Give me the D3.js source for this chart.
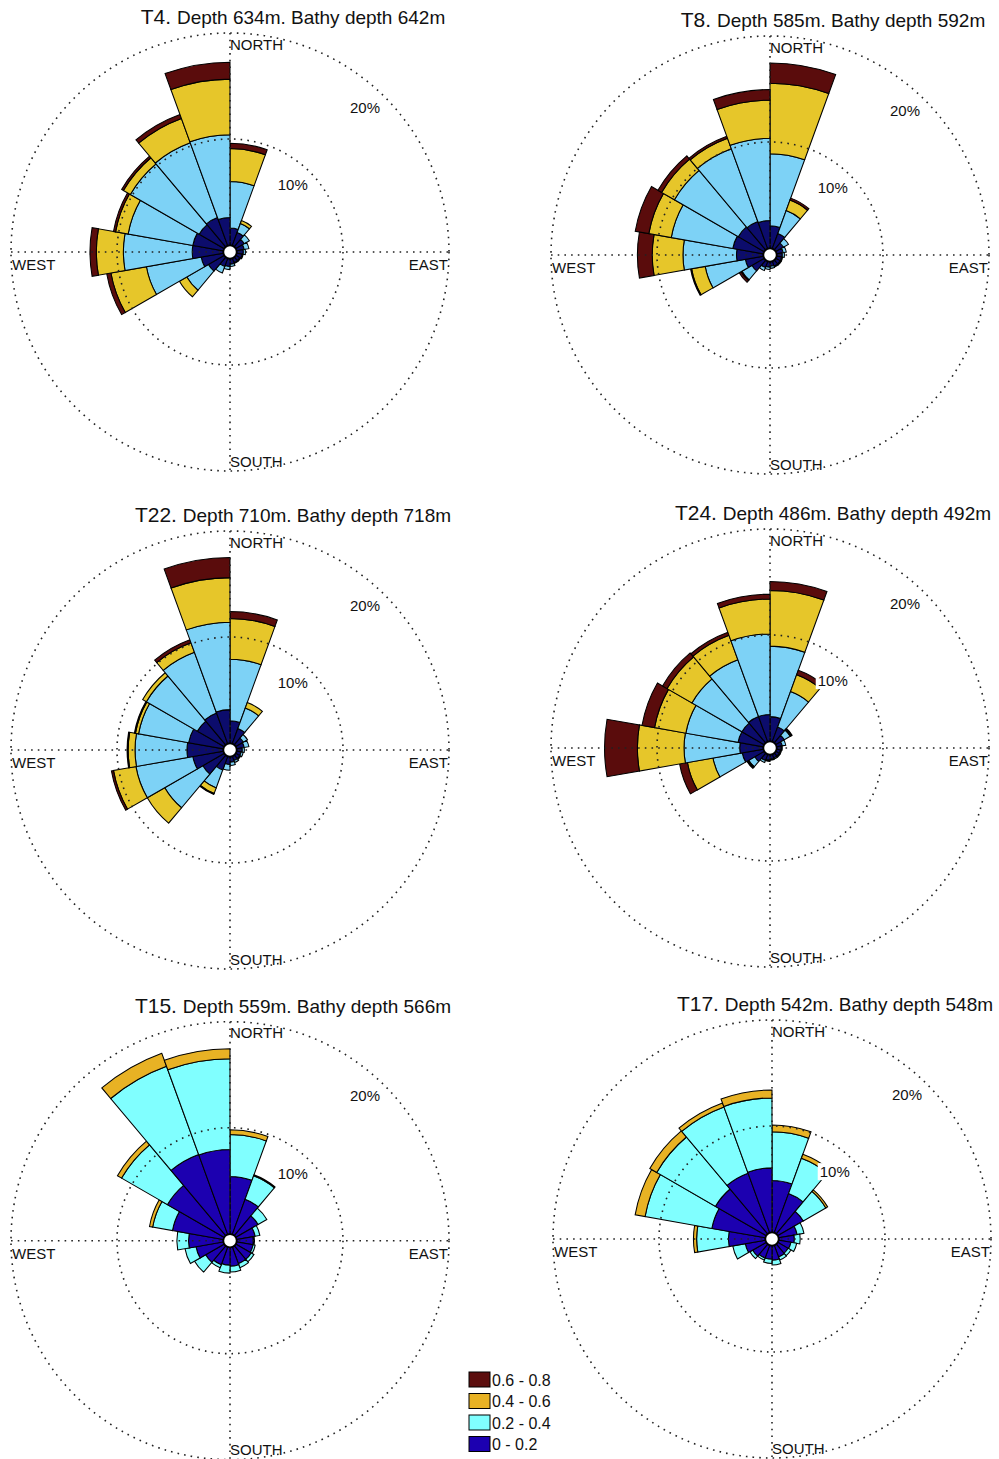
<!DOCTYPE html>
<html>
<head>
<meta charset="utf-8">
<script src="https://cdn.jsdelivr.net/npm/d3@7"></script>
<style>
  html, body { margin: 0; padding: 0; background: #fff; }
  svg { display: block; font-family: "Liberation Sans", Arial, Helvetica, sans-serif; }
</style>
</head>
<body>
<svg id="chart" width="999" height="1459"></svg>
<script>
// ---- Direction sectors (compass degrees, clockwise from north, 20° wide) ----
const sectorStart = [0, 20, 40, 60, 80, 100, 120, 140, 160, 180, 200, 220, 240, 260, 280, 300, 320, 340];
const sectorWidth = 20;

// ---- Speed classes (m/s) ----
const speedClasses = ["0 - 0.2", "0.2 - 0.4", "0.4 - 0.6", "0.6 - 0.8"];

// ---- Radial ticks (% of records) ----
const pctTicks = [10, 20];
const pctTickLabels = ["10%", "20%"];
const compassLabels = ["NORTH", "SOUTH", "WEST", "EAST"];

// ---- Moorings ----
const stations = ["T4", "T8", "T22", "T24", "T15", "T17"];
const instrDepth = [634, 585, 710, 486, 559, 542];
const bathyDepth = [642, 592, 718, 492, 566, 548];

// ---- Frequency (%) per sector, one array per speed class ----
const T4_s02 = [1.6, 1.3, 0.9, 0.7, 0.6, 0.5, 0.4, 0.4, 0.5, 0.7, 0.8, 1.7, 2.1, 2.9, 2.9, 2.7, 2.8, 2.6];
const T4_s04 = [4.4, 0.9, 0.55, 0.45, 0.2, 0.1, 0.1, 0.1, 0.2, 0.3, 0.65, 2.35, 5.25, 6.5, 6.2, 7.5, 7.5, 7.8];
const T4_s06 = [3.1, 0.3, 0, 0, 0, 0, 0, 0, 0, 0, 0, 0.8, 3.4, 2.55, 1.2, 0.75, 2.45, 5.25];
const T4_s08 = [0.5, 0, 0, 0, 0, 0, 0, 0, 0, 0, 0, 0, 0.4, 0.6, 0.2, 0.2, 0.4, 1.6];

const T8_s02 = [2.1, 1.5, 0.8, 0.6, 0.5, 0.45, 0.45, 0.45, 0.4, 0.5, 0.6, 1.3, 1.7, 2.5, 2.9, 2.8, 2.7, 2.6];
const T8_s04 = [6.8, 2.3, 0.55, 0.3, 0.2, 0.1, 0.1, 0.1, 0.2, 0.2, 0.3, 1.1, 3.85, 5.05, 5.9, 6.95, 7.3, 7.75];
const T8_s06 = [6.65, 1.05, 0, 0, 0, 0, 0, 0, 0, 0, 0, 0.1, 1.3, 2.9, 2.15, 1.4, 1.05, 3.6];
const T8_s08 = [1.9, 0.2, 0, 0, 0, 0, 0, 0, 0, 0, 0, 0.2, 0.1, 1.4, 1.3, 0.4, 0.2, 1.0];

const T22_s02 = [2.1, 1.5, 0.8, 0.7, 0.5, 0.4, 0.4, 0.4, 0.5, 0.7, 1.35, 2.3, 2.9, 3.4, 3.3, 2.9, 3.05, 3.15];
const T22_s04 = [5.8, 2.05, 0.45, 0.45, 0.2, 0.2, 0.1, 0.2, 0.3, 0.55, 1.8, 4.15, 5.45, 4.9, 4.8, 5.55, 6.1, 8.25];
const T22_s06 = [3.85, 0.55, 0, 0, 0, 0, 0, 0, 0, 0, 0.55, 1.9, 2.15, 0.65, 0.3, 0.4, 0.95, 4.2];
const T22_s08 = [0.65, 0, 0, 0, 0, 0, 0, 0, 0, 0, 0.1, 0, 0.2, 0.1, 0.1, 0, 0.3, 1.9];

const T24_s02 = [2.3, 1.45, 0.9, 0.5, 0.4, 0.35, 0.35, 0.35, 0.4, 0.5, 0.6, 1.0, 2.0, 2.2, 2.4, 2.4, 2.5, 2.5];
const T24_s04 = [6.65, 3.55, 0.65, 0.35, 0.1, 0.1, 0.1, 0.1, 0.1, 0.1, 0.2, 0.65, 2.8, 5.25, 5.0, 5.45, 5.7, 7.6];
const T24_s06 = [5.25, 1.7, 0.1, 0, 0, 0, 0, 0, 0, 0, 0, 0.1, 2.45, 4.4, 3.0, 2.7, 2.45, 3.3];
const T24_s08 = [0.85, 0.45, 0.1, 0, 0, 0, 0, 0, 0, 0, 0, 0.1, 0.75, 3.1, 1.2, 0.5, 0.3, 0.45];

const T15_s02 = [5.4, 3.5, 2.4, 1.75, 1.55, 1.55, 1.65, 1.65, 1.75, 1.65, 1.75, 2.0, 2.6, 3.25, 4.85, 6.15, 8.0, 7.95];
const T15_s04 = [3.95, 2.35, 0.95, 0.45, 0.1, 0.2, 0.3, 0.4, 0.55, 0.75, 0.3, 1.2, 1.05, 1.1, 1.9, 5.0, 8.85, 8.55];
const T15_s06 = [0.45, 0.1, 0, 0, 0, 0, 0, 0, 0, 0, 0, 0, 0, 0, 0.3, 0.45, 1.3, 0.95];
const T15_s08 = [0, 0, 0, 0, 0, 0, 0, 0, 0, 0, 0, 0, 0, 0, 0, 0, 0, 0];

const T17_s02 = [4.85, 3.9, 2.75, 1.75, 1.45, 1.15, 1.1, 1.15, 1.35, 1.25, 1.25, 1.45, 1.9, 3.45, 5.1, 5.5, 5.95, 6.05];
const T17_s04 = [4.6, 3.55, 2.45, 0.65, 0.55, 0.55, 0.3, 0.3, 0.45, 0.4, 0.2, 0.3, 1.2, 3.0, 6.4, 6.4, 6.65, 6.6];
const T17_s06 = [0.65, 0.4, 0.2, 0, 0, 0, 0, 0, 0, 0, 0, 0, 0, 0.3, 0.95, 0.75, 0.4, 0.75];
const T17_s08 = [0, 0, 0, 0, 0, 0, 0, 0, 0, 0, 0, 0, 0, 0, 0, 0, 0, 0];

const roseBands = [
  [T4_s02, T4_s04, T4_s06, T4_s08],
  [T8_s02, T8_s04, T8_s06, T8_s08],
  [T22_s02, T22_s04, T22_s06, T22_s08],
  [T24_s02, T24_s04, T24_s06, T24_s08],
  [T15_s02, T15_s04, T15_s06, T15_s08],
  [T17_s02, T17_s04, T17_s06, T17_s08]
];

// ---- Layout & styling ----
const centers = [[230, 252], [770, 255], [230, 750], [770, 748], [230, 1240.7], [772, 1239]];
const paletteDeep   = ["#0c0c6c", "#7dd2f6", "#e6c62a", "#5a0c0c"];
const paletteBright = ["#1c00b0", "#80ffff", "#e8b224", "#5c0e0e"];
const rosePalette = [paletteDeep, paletteDeep, paletteDeep, paletteDeep, paletteBright, paletteBright];

const svg = d3.select("#chart");
const rScale = d3.scaleLinear().domain([0, 20]).range([7, 219]);
const rad = d => d * Math.PI / 180;
const arcGen = d3.arc();
const R = rScale(pctTicks[pctTicks.length - 1]);

svg.append("rect").attr("width", 999).attr("height", 1459).attr("fill", "#fff");

stations.forEach((name, si) => {
  const [cx, cy] = centers[si];
  const g = svg.append("g").attr("transform", `translate(${cx},${cy})`);
  const pal = rosePalette[si];
  const bands = roseBands[si];

  // stacked wedges for each direction sector
  const barG = g.append("g");
  sectorStart.forEach((deg, k) => {
    let cum = 0;
    bands.forEach((vals, b) => {
      const v = vals[k];
      if (!(v > 0)) return;
      const inner = rScale(cum);
      cum += v;
      const outer = rScale(cum);
      barG.append("path")
        .attr("d", arcGen({ innerRadius: inner, outerRadius: outer,
                            startAngle: rad(deg), endAngle: rad(deg + sectorWidth) }))
        .attr("fill", pal[b])
        .attr("stroke", "#000")
        .attr("stroke-width", 1.05)
        .attr("stroke-linejoin", "miter");
    });
  });

  // dotted grid drawn over the bars
  const gridG = g.append("g").attr("fill", "none").attr("stroke", "#222")
    .attr("stroke-width", 1.6).attr("stroke-dasharray", "1.6 5.1");
  pctTicks.forEach(t => gridG.append("circle").attr("r", rScale(t)));
  gridG.append("line").attr("x1", -R).attr("x2", R).attr("y1", 0).attr("y2", 0);
  gridG.append("line").attr("x1", 0).attr("x2", 0).attr("y1", -R).attr("y2", R);

  // hollow centre
  g.append("circle").attr("r", 6.6).attr("fill", "#fff")
    .attr("stroke", "#000").attr("stroke-width", 1.6);

  // compass labels
  const lab = g.append("g").attr("font-size", 15).attr("fill", "#111");
  lab.append("text").attr("x", 0).attr("y", -202.5).text(compassLabels[0]);
  lab.append("text").attr("x", 0).attr("y", 214.7).text(compassLabels[1]);
  lab.append("text").attr("x", -218).attr("y", 18).text(compassLabels[2]);
  lab.append("text").attr("x", 218).attr("y", 18).attr("text-anchor", "end").text(compassLabels[3]);

  // percentage labels on a white box
  pctTicks.forEach((t, i) => {
    const rr = rScale(t) - 21;
    const px = rr * Math.cos(rad(47)), py = -rr * Math.sin(rad(47));
    const tg = g.append("g");
    const bg = tg.append("rect").attr("fill", "#fff");
    const tx = tg.append("text").attr("x", px).attr("y", py + 5.4)
      .attr("text-anchor", "middle").attr("font-size", 15).attr("fill", "#111")
      .text(pctTickLabels[i]);
    const bb = tx.node().getBBox();
    bg.attr("x", bb.x - 2).attr("y", bb.y).attr("width", bb.width + 4).attr("height", bb.height);
  });

  // title
  const title = g.append("text").attr("x", 63).attr("y", -228)
    .attr("text-anchor", "middle").attr("fill", "#111");
  title.append("tspan").attr("font-size", 21).text(name + ". ");
  title.append("tspan").attr("font-size", 19)
    .text(`Depth ${instrDepth[si]}m. Bathy depth ${bathyDepth[si]}m`);
});

// ---- Legend (speed classes) ----
const legend = svg.append("g").attr("transform", "translate(469,1372)");
const legendOrder = [3, 2, 1, 0];
legendOrder.forEach((b, i) => {
  const row = legend.append("g").attr("transform", `translate(0,${i * 21.5})`);
  row.append("rect").attr("width", 21).attr("height", 15)
    .attr("fill", paletteBright[b]).attr("stroke", "#000").attr("stroke-width", 1);
  row.append("text").attr("x", 23).attr("y", 13.5).attr("font-size", 16)
    .attr("fill", "#111").text(speedClasses[b]);
});
</script>
</body>
</html>
